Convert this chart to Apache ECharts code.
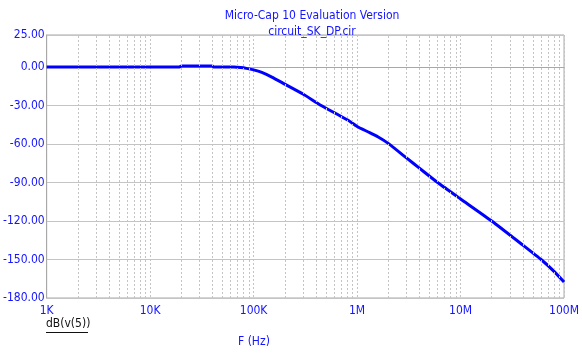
<!DOCTYPE html>
<html>
<head>
<meta charset="utf-8">
<script src="https://cdn.jsdelivr.net/npm/echarts@6/dist/echarts.min.js"></script>
<style>
html,body{margin:0;padding:0;background:#fff;}
#chart{width:582px;height:358px;}
</style>
</head>
<body>
<div id="chart"></div>
<script>
// Data (frequency in Hz, magnitude in dB)
const freqHz = [1e3, 1.9e4, 2.0e4, 4.0e4, 4.1e4, 6.5e4, 7.5e4, 8.5e4, 1.0e5, 1.2e5, 1.5e5, 2.0e5, 3.0e5, 4.5e5, 6.5e5, 8.2e5, 1.0e6, 1.3e6, 1.6e6, 2.0e6, 3.0e6, 4.0e6, 6.0e6, 1.0e7, 2.0e7, 4.0e7, 6.0e7, 8.0e7, 1.0e8];
const dbValues = [0, 0, 0.8, 0.8, 0, 0, -0.4, -1.0, -2.2, -4.2, -7.8, -13.3, -21.0, -30.0, -37.0, -41.5, -46.3, -50.8, -54.5, -59.5, -70.8, -78.8, -90.0, -102.8, -120.0, -138.8, -150.0, -159.2, -167.5];
const xTickValues = [1e3, 1e4, 1e5, 1e6, 1e7, 1e8];
const xTickLabels = ['1K', '10K', '100K', '1M', '10M', '100M'];
const yTickLabels = ['25.00', '0.00', '-30.00', '-60.00', '-90.00', '-120.00', '-150.00', '-180.00'];
const titleLines = ['Micro-Cap 10 Evaluation Version', 'circuit_SK_DP.cir'];
const yLabelText = 'dB(v(5))';
const xLabelText = 'F (Hz)';

// minor grid positions 2..9 in each decade
const minorGrid = [];
for (let d = 0; d < xTickValues.length - 1; d++) {
  for (let m = 2; m <= 9; m++) minorGrid.push(xTickValues[d] * m);
}

const FONT = '"DejaVu Sans Condensed", "DejaVu Sans", sans-serif';
const BLUE = '#1414ff';
const GRID = '#c4c4c4';

const chart = echarts.init(document.getElementById('chart'), null, {renderer: 'canvas'});
chart.setOption({
  animation: false,
  backgroundColor: '#fff',
  title: {
    text: titleLines.join('\n'),
    left: 307, top: 3, textAlign: 'center',
    textStyle: {color: BLUE, fontFamily: FONT, fontSize: 12, fontWeight: 'normal', lineHeight: 16}
  },
  grid: {left: 46, right: 14, top: 35, bottom: 60, show: true, borderColor: '#a8a8a8', borderWidth: 1},
  xAxis: {
    type: 'log', logBase: 10, min: 1e3, max: 1e8,
    axisLine: {show: true, lineStyle: {color: '#a8a8a8'}},
    axisTick: {show: false},
    splitLine: {show: true, lineStyle: {color: GRID, type: [2, 2]}},
    axisLabel: {
      color: BLUE, fontFamily: FONT, fontSize: 12, margin: 7,
      alignMinLabel: 'left',
      formatter: v => { const i = xTickValues.findIndex(t => Math.abs(t - v) / t < 1e-6); return i >= 0 ? xTickLabels[i] : ''; }
    }
  },
  yAxis: {
    type: 'value', min: -180, max: 25, interval: 30,
    axisLine: {show: true, lineStyle: {color: '#a8a8a8'}},
    axisTick: {show: false},
    splitLine: {show: true, lineStyle: {color: GRID, type: 'solid'}},
    axisLabel: {
      color: BLUE, fontFamily: FONT, fontSize: 12, margin: 2,
      formatter: v => { const s = v.toFixed(2); return yTickLabels.indexOf(s) >= 0 ? s : ''; }
    }
  },
  graphic: [
    {type: 'text', left: 46, top: 318, style: {text: yLabelText, fill: '#111', font: '12px ' + FONT}},
    {type: 'rect', shape: {x: 46, y: 332, width: 42, height: 1}, style: {fill: '#111'}},
    {type: 'text', left: 238, top: 336, style: {text: xLabelText, fill: BLUE, font: '12px ' + FONT}}
  ],
  series: [
    {
      type: 'line', data: [], z: 1, silent: true,
      markLine: {
        silent: true, symbol: 'none', animation: false,
        label: {show: false},
        lineStyle: {color: GRID, type: [2, 2], width: 1},
        data: minorGrid.map(v => ({xAxis: v}))
      }
    },
    {
      type: 'line', z: 3,
      data: freqHz.map((f, i) => [f, dbValues[i]]),
      showSymbol: false, smooth: 0.15,
      lineStyle: {color: '#0000ff', width: 3}
    }
  ]
});
</script>
</body>
</html>
